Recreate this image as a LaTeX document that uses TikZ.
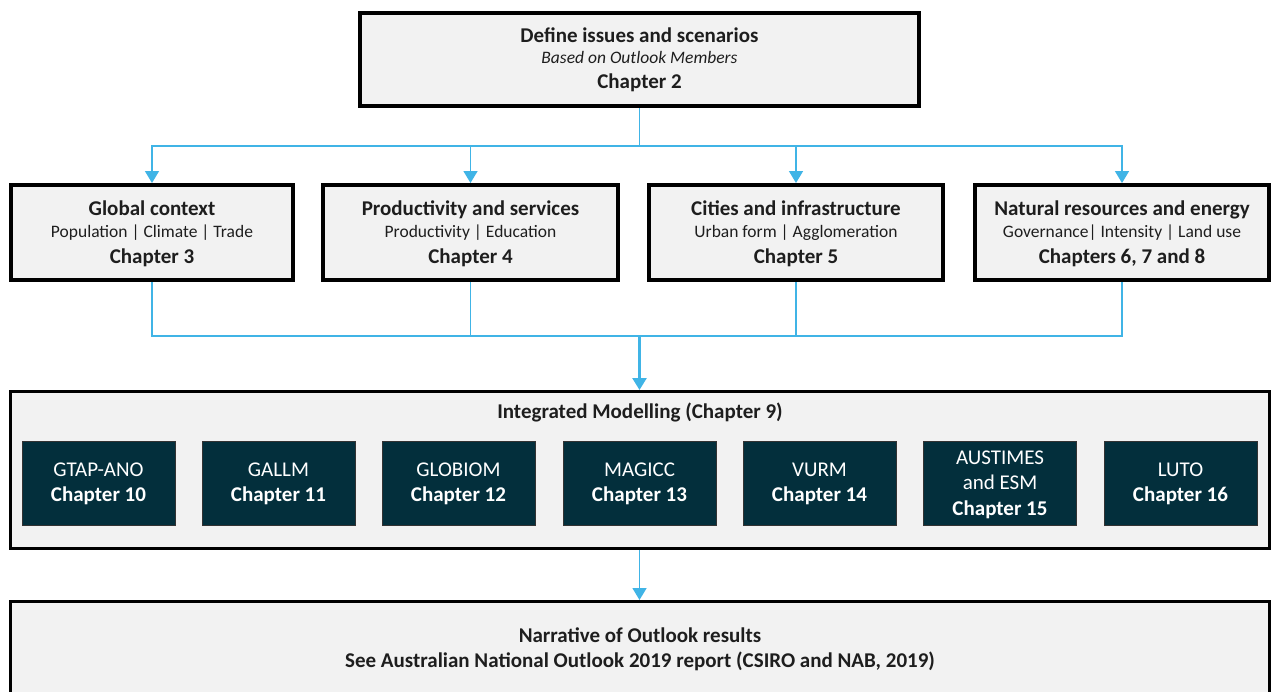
\documentclass[tikz,border=0pt]{standalone}
\usepackage{fontspec}
\setmainfont{Carlito}
\usetikzlibrary{arrows.meta}
\definecolor{boxfill}{RGB}{242,242,242}
\definecolor{modfill}{RGB}{3,47,60}
\definecolor{conncol}{RGB}{64,180,230}
\definecolor{txtcol}{RGB}{30,30,30}
\tikzset{
  bigbox/.style={draw=black,fill=boxfill,line width=4pt,rectangle,inner sep=0pt},
  framebox/.style={draw=black,fill=boxfill,line width=3pt,rectangle,inner sep=0pt},
  modbox/.style={draw=black!80,fill=modfill,line width=1pt,rectangle,inner sep=0pt,minimum width=153pt,minimum height=84pt},
  ttl/.style={anchor=base,inner sep=0pt,text=txtcol,font=\fontsize{21}{25}\selectfont\bfseries},
  sub/.style={anchor=base,inner sep=0pt,text=txtcol,font=\fontsize{17.5}{21}\selectfont},
  subit/.style={anchor=base,inner sep=0pt,text=txtcol,font=\fontsize{17.5}{21}\selectfont\itshape},
  modtxt/.style={anchor=base,inner sep=0pt,text=white,font=\fontsize{21}{25}\selectfont},
  modbold/.style={anchor=base,inner sep=0pt,text=white,font=\fontsize{21}{25}\selectfont\bfseries},
  conn/.style={draw=conncol,line width=1.5pt},
  arr/.style={-{Triangle[width=14pt,length=12pt]}},
}
\begin{document}
\begin{tikzpicture}[x=1pt,y=-1pt]
\useasboundingbox (0,0) rectangle (1271,691);
\clip (0,0) rectangle (1271,691);
\fill[white] (0,0) rectangle (1271,691);

% top box
\node[bigbox,minimum width=559pt,minimum height=93pt] (top) at (639.5,59.5) {};
\node[ttl] (topt1) at (639.5,42) {Define issues and scenarios};
\node[subit] (topt2) at (639.5,63) {Based on Outlook Members};
\node[ttl] (topt3) at (639.5,88) {Chapter 2};

% row 2
\node[bigbox,minimum width=282pt,minimum height=95pt] (b1) at (152,232.5) {};
\node[bigbox,minimum width=295pt,minimum height=95pt] (b2) at (470.5,232.5) {};
\node[bigbox,minimum width=294pt,minimum height=95pt] (b3) at (796,232.5) {};
\node[bigbox,minimum width=294pt,minimum height=95pt] (b4) at (1122,232.5) {};

\node[ttl] (b1t1) at (152,215) {Global context};
\node[sub] (b1t2) at (152,237) {Population | Climate | Trade};
\node[ttl] (b1t3) at (152,263) {Chapter 3};

\node[ttl] (b2t1) at (470.5,215) {Productivity and services};
\node[sub] (b2t2) at (470.5,237) {Productivity | Education};
\node[ttl] (b2t3) at (470.5,263) {Chapter 4};

\node[ttl] (b3t1) at (796,215) {Cities and infrastructure};
\node[sub] (b3t2) at (796,237) {Urban form | Agglomeration};
\node[ttl] (b3t3) at (796,263) {Chapter 5};

\node[ttl] (b4t1) at (1122,215) {Natural resources and energy};
\node[sub] (b4t2) at (1122,237) {Governance| Intensity | Land use};
\node[ttl] (b4t3) at (1122,263) {Chapters 6, 7 and 8};

% integrated modelling frame
\node[framebox,minimum width=1259pt,minimum height=157pt] (integ) at (640,470) {};
\node[ttl] (integt) at (640,418) {Integrated Modelling (Chapter 9)};

\node[modbox] (m1) at (98.5,483) {};
\node[modbox] (m2) at (278.5,483) {};
\node[modbox] (m3) at (458.5,483) {};
\node[modbox] (m4) at (639.5,483) {};
\node[modbox] (m5) at (819.5,483) {};
\node[modbox] (m6) at (1000,483) {};
\node[modbox] (m7) at (1180.5,483) {};

\node[modtxt] (m1a) at (98.5,476) {GTAP-ANO};
\node[modbold] (m1b) at (98.5,501) {Chapter 10};
\node[modtxt] (m2a) at (278.5,476) {GALLM};
\node[modbold] (m2b) at (278.5,501) {Chapter 11};
\node[modtxt] (m3a) at (458.5,476) {GLOBIOM};
\node[modbold] (m3b) at (458.5,501) {Chapter 12};
\node[modtxt] (m4a) at (639.5,476) {MAGICC};
\node[modbold] (m4b) at (639.5,501) {Chapter 13};
\node[modtxt] (m5a) at (819.5,476) {VURM};
\node[modbold] (m5b) at (819.5,501) {Chapter 14};
\node[modtxt] (m6a) at (1000,464) {AUSTIMES};
\node[modtxt] (m6b) at (1000,489) {and ESM};
\node[modbold] (m6c) at (1000,515) {Chapter 15};
\node[modtxt] (m7a) at (1180.5,476) {LUTO};
\node[modbold] (m7b) at (1180.5,501) {Chapter 16};

% narrative box
\node[framebox,minimum width=1259pt,minimum height=120pt] (narr) at (640,661.5) {};
\node[ttl] (narr1) at (640,642) {Narrative of Outlook results};
\node[ttl] (narr2) at (640,667) {See Australian National Outlook 2019 report (CSIRO and NAB, 2019)};

% connectors
\coordinate (hub1) at (639.5,146);
\coordinate (hub2) at (639.5,336);
\draw[conn] (top.south) -- (hub1);
\draw[conn,arr] (hub1) -| (b1.north);
\draw[conn,arr] (hub1) -| (b2.north);
\draw[conn,arr] (hub1) -| (b3.north);
\draw[conn,arr] (hub1) -| (b4.north);
\draw[conn] (b1.south) |- (hub2);
\draw[conn] (b2.south) |- (hub2);
\draw[conn] (b3.south) |- (hub2);
\draw[conn] (b4.south) |- (hub2);
\draw[conn,arr,line width=2.5pt] (hub2) -- (integ.north -| hub2);
\draw[conn,arr] (integ.south -| hub2) -- (narr.north -| hub2);
\end{tikzpicture}
\end{document}
